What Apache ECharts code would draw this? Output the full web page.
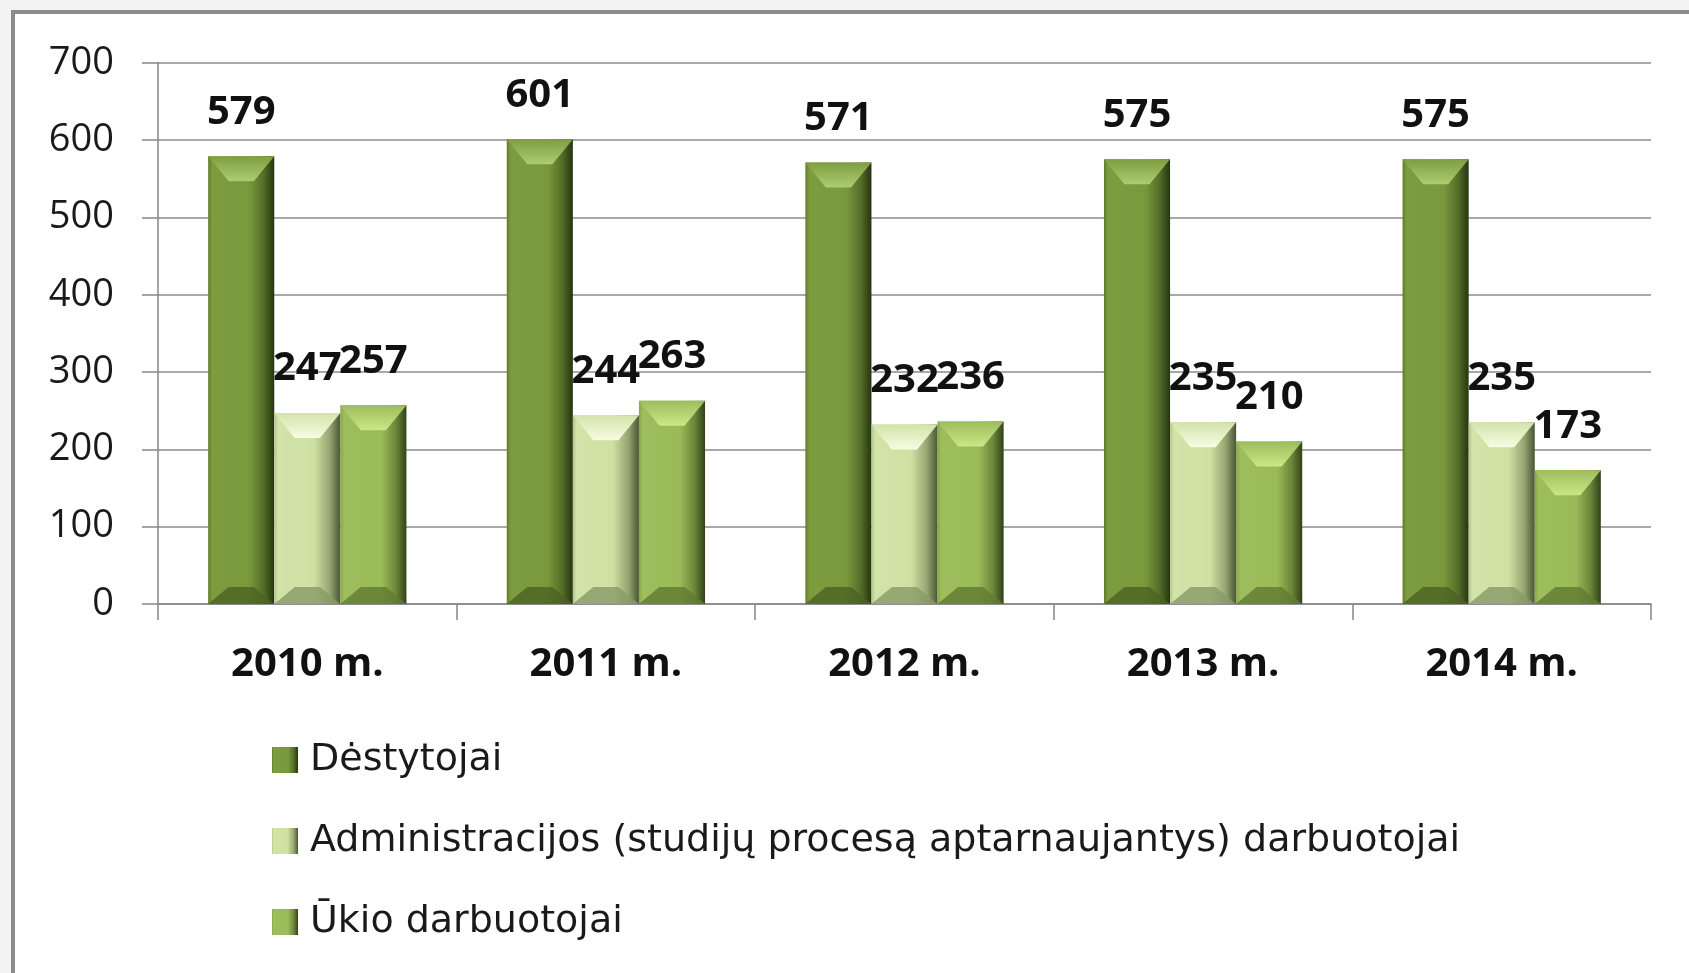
<!DOCTYPE html>
<html>
<head>
<meta charset="utf-8">
<script src="https://cdn.jsdelivr.net/npm/echarts@6/dist/echarts.min.js"></script>
<style>
  html, body { margin: 0; padding: 0; width: 1689px; height: 973px; overflow: hidden; background: #f4f4f4; }
  #frame { position: absolute; left: 11px; top: 10px; width: 1720px; height: 1000px; border: 4px solid #8c8c8c; background: #ffffff; }
  #chart { position: absolute; left: 0; top: 0; width: 1689px; height: 973px; }
</style>
</head>
<body>
<div id="frame"></div>
<div id="chart"></div>
<script>
// ---- data ----
const categories = ['2010 m.', '2011 m.', '2012 m.', '2013 m.', '2014 m.'];
const seriesNames = ['Dėstytojai', 'Administracijos (studijų procesą aptarnaujantys) darbuotojai', 'Ūkio darbuotojai'];
const destytojai = [579, 601, 571, 575, 575];
const administracija = [247, 244, 232, 235, 235];
const ukio = [257, 263, 236, 210, 173];
const yMin = 0, yMax = 700, yStep = 100;

// ---- styles ----
const FONT = '"Open Sans", "Noto Sans", sans-serif';
const LEGEND_FONT = '"DejaVu Sans", "Open Sans", sans-serif';
const BAR_CAT_GAP = 0.336;
const G = echarts.graphic.LinearGradient;
const barFills = [
  new G(0, 0, 1, 0, [
    { offset: 0, color: '#5f7b2b' }, { offset: 0.06, color: '#7d9c40' },
    { offset: 0.62, color: '#7a993d' }, { offset: 0.84, color: '#536d28' }, { offset: 1, color: '#273410' }]),
  new G(0, 0, 1, 0, [
    { offset: 0, color: '#b4c78b' }, { offset: 0.06, color: '#d3e3a9' },
    { offset: 0.6, color: '#cfe1a2' }, { offset: 0.84, color: '#94a571' }, { offset: 1, color: '#4a5634' }]),
  new G(0, 0, 1, 0, [
    { offset: 0, color: '#86a64a' }, { offset: 0.06, color: '#9ebe5d' },
    { offset: 0.62, color: '#9bba58' }, { offset: 0.84, color: '#6c8739' }, { offset: 1, color: '#314219' }])
];
const topBevel = [['#7f9d42', '#aecd70'], ['#d3e3a9', '#f8fce4'], ['#9dbc5b', '#cbe888']];
const bottomBevel = ['#4c6222', '#8a9a68', '#627b31'];

const values = [destytojai, administracija, ukio];

const barSeries = values.map((vals, s) => ({
  name: seriesNames[s],
  type: 'bar',
  data: vals,
  barGap: '0%',
  barCategoryGap: (BAR_CAT_GAP * 100) + '%',
  itemStyle: { color: barFills[s] },
  label: {
    show: true, position: 'top', distance: 24,
    fontFamily: FONT, fontSize: 40, fontWeight: 'bold', color: '#111'
  },
  z: 2
}));

// bevel overlay drawn through the same axes
const bevelData = [];
values.forEach((vals, s) => vals.forEach((v, i) => bevelData.push([i, v, s])));

const bevelSeries = {
  type: 'custom',
  silent: true,
  data: bevelData,
  encode: { x: 0, y: 1 },
  z: 3,
  renderItem: function (params, api) {
    const i = api.value(0), v = api.value(1), s = api.value(2);
    const topPt = api.coord([i, v]);
    const basePt = api.coord([i, 0]);
    const band = api.size([1, 0])[0];
    const total = band * (1 - BAR_CAT_GAP);
    const bw = total / 3;
    const x0 = topPt[0] - total / 2 + s * bw;
    const x1 = x0 + bw;
    const yT = topPt[1], yB = basePt[1];
    const ins = bw * 0.31, dep = 25, bdep = 17;
    return {
      type: 'group',
      children: [
        {
          type: 'polygon',
          shape: { points: [[x0, yT], [x1, yT], [x1 - ins, yT + dep], [x0 + ins, yT + dep]] },
          style: { fill: new G(0, 0, 0, 1, [{ offset: 0, color: topBevel[s][0] }, { offset: 1, color: topBevel[s][1] }]) }
        },
        {
          type: 'polygon',
          shape: { points: [[x0, yB], [x1, yB], [x1 - ins, yB - bdep], [x0 + ins, yB - bdep]] },
          style: { fill: bottomBevel[s], opacity: 0.8 }
        }
      ]
    };
  }
};

const chart = echarts.init(document.getElementById('chart'), null, { renderer: 'canvas' });
chart.setOption({
  backgroundColor: 'transparent',
  animation: false,
  grid: { left: 158, right: 38, top: 62.7, bottom: 369, containLabel: false },
  legend: {
    data: seriesNames,
    orient: 'vertical',
    left: 272, top: 741,
    padding: 0,
    itemWidth: 26, itemHeight: 26, itemGap: 43,
    icon: 'rect',
    textStyle: { fontFamily: LEGEND_FONT, fontSize: 38, color: '#1a1a1a', padding: [0, 0, 0, 7] }
  },
  xAxis: {
    type: 'category',
    data: categories,
    axisLine: { show: true, lineStyle: { color: '#868686', width: 1.5 } },
    axisTick: { show: true, length: 16, lineStyle: { color: '#868686', width: 1.5 } },
    axisLabel: { fontFamily: FONT, fontSize: 40, fontWeight: 'bold', color: '#111', margin: 41 },
    splitLine: { show: false }
  },
  yAxis: {
    type: 'value',
    min: yMin, max: yMax, interval: yStep,
    axisLine: { show: true, lineStyle: { color: '#868686', width: 1.5 } },
    axisTick: { show: true, length: 16, lineStyle: { color: '#868686', width: 1.5 } },
    axisLabel: { fontFamily: FONT, fontSize: 38, color: '#1a1a1a', margin: 44 },
    splitLine: { show: true, lineStyle: { color: '#8c8c8c', width: 1.5 } }
  },
  series: barSeries.concat([bevelSeries])
});
</script>
</body>
</html>
